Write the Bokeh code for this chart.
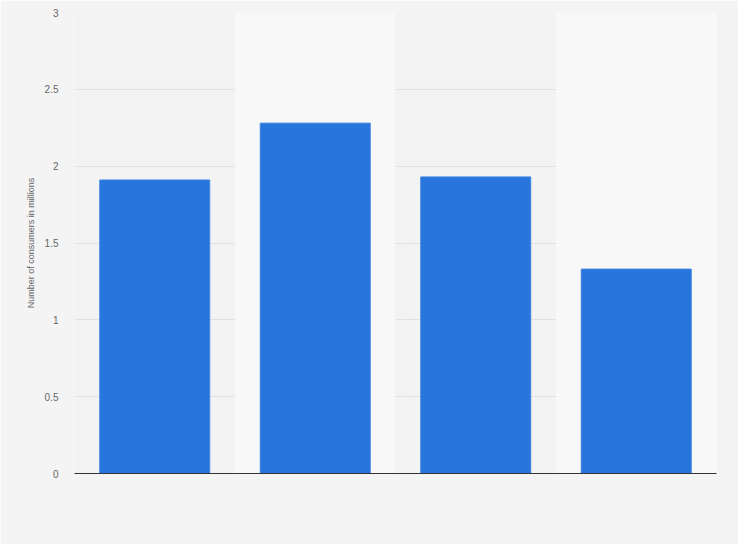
from bokeh.plotting import figure
from bokeh.models import Range1d, FixedTicker, ColumnDataSource
from bokeh.embed import file_html
from bokeh.resources import INLINE

categories = ["1", "2", "3", "4"]
values = [1.91, 2.28, 1.93, 1.33]
y_ticks = [0, 0.5, 1, 1.5, 2, 2.5, 3]
y_tick_labels = ["0", "0.5", "1", "1.5", "2", "2.5", "3"]

xs = list(range(1, len(categories) + 1))
band_x = [x for x in xs if x % 2 == 0]

p = figure(width=738, height=544, output_backend="svg", toolbar_location=None,
           x_range=Range1d(0.5, len(categories) + 0.5), y_range=Range1d(0, 3))
p.min_border_left = 74
p.min_border_right = 22
p.min_border_top = 12
p.min_border_bottom = 71
p.border_fill_color = "#f4f4f4"
p.background_fill_color = "#f3f3f3"
p.outline_line_color = None

# alternating bands
p.vbar(x=band_x, top=3, bottom=0, width=1.0, fill_color="#f8f8f8", line_color=None)

src = ColumnDataSource(dict(x=xs, top=values))
p.vbar(x="x", top="top", bottom=0, width=0.685, source=src,
       fill_color="#2876dd", line_color="#3a82e0", line_width=1)

# y axis
p.yaxis.ticker = FixedTicker(ticks=y_ticks)
p.yaxis.major_label_overrides = {t: l for t, l in zip(y_ticks, y_tick_labels)}
p.yaxis.axis_line_color = None
p.yaxis.major_tick_line_color = None
p.yaxis.minor_tick_line_color = None
p.yaxis.major_label_text_color = "#666666"
p.yaxis.major_label_text_font = "Liberation Sans"
p.yaxis.major_label_text_font_size = "10px"
p.yaxis.major_label_standoff = 10
p.yaxis.axis_label = "Number of consumers in millions"
p.yaxis.axis_label_text_font = "Liberation Sans"
p.yaxis.axis_label_text_font_style = "normal"
p.yaxis.axis_label_text_font_size = "9px"
p.yaxis.axis_label_text_color = "#666666"
p.yaxis.axis_label_standoff = 6

# x axis
p.xaxis.ticker = FixedTicker(ticks=[])
p.xaxis.axis_line_color = "#333333"
p.xaxis.axis_line_width = 1
p.xaxis.major_tick_line_color = None
p.xaxis.minor_tick_line_color = None
p.xaxis.major_label_text_font_size = "0px"

p.xgrid.grid_line_color = None
p.ygrid.ticker = FixedTicker(ticks=y_ticks[1:])
p.ygrid.grid_line_color = "#cfcfcf"
p.ygrid.grid_line_dash = "1 1"
p.ygrid.grid_line_width = 1

open("out.html", "w").write(file_html(p, INLINE))
